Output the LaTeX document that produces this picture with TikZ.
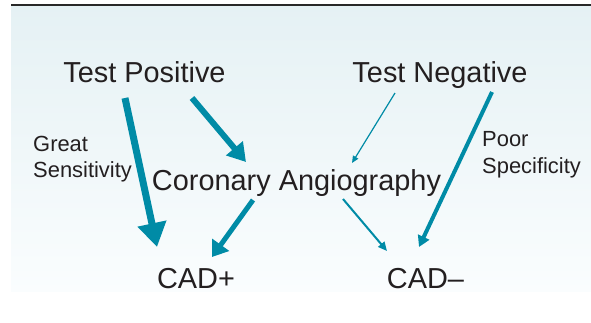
\documentclass[tikz,border=0pt]{standalone}
\usepackage{fontspec}
\setmainfont{Liberation Sans}
\usetikzlibrary{arrows.meta}
\definecolor{arrowteal}{RGB}{0,139,166}
\definecolor{textgray}{RGB}{35,31,32}
\definecolor{bgtop}{RGB}{229,241,244}
\definecolor{bgbot}{RGB}{250,253,254}
\definecolor{topline}{RGB}{40,40,40}
\tikzset{
  bigtext/.style={inner sep=0pt, anchor=base, text=textgray, font=\fontsize{29}{34}\selectfont},
  smalltext/.style={inner sep=0pt, anchor=north west, align=left, text=textgray, font=\fontsize{22}{26.5}\selectfont},
  conn/.style={draw=arrowteal, line cap=butt},
}
\begin{document}
\begin{tikzpicture}[x=1bp,y=-1bp]
\useasboundingbox (0,0) rectangle (591,322);
\shade[top color=bgtop, bottom color=bgbot] (11,5) rectangle (591,291);
\draw[line width=2bp, topline] (11,5) -- (591,5);

\node[bigtext] (tp) at (144.5,82) {Test Positive};
\node[bigtext] (tn) at (440,82) {Test Negative};
\node[bigtext] (ca) at (296.5,190) {Coronary Angiography};
\node[bigtext] (cp) at (196,288) {CAD+};
\node[bigtext] (cm) at (425.5,288) {CAD–};
\node[smalltext] (gs) at (33,135.5) {Great\\Sensitivity};
\node[smalltext] (ps) at (482,131.5) {Poor\\Specificity};

\coordinate (a1s) at (125,98);  \coordinate (a1e) at (157,247);
\coordinate (a2s) at (192,98);  \coordinate (a2e) at (246,162);
\coordinate (a3s) at (253,200); \coordinate (a3e) at (212,257);
\coordinate (a4s) at (395,93);  \coordinate (a4e) at (352,163);
\coordinate (a5s) at (492,92);  \coordinate (a5e) at (419,247);
\coordinate (a6s) at (343,199); \coordinate (a6e) at (387,251);

\draw[conn, line width=7bp, -{Triangle[length=24bp,width=28bp]}] (a1s) -- (a1e);
\draw[conn, line width=6bp, -{Triangle[length=18bp,width=21bp]}] (a2s) -- (a2e);
\draw[conn, line width=5bp, -{Triangle[length=15bp,width=20bp]}] (a3s) -- (a3e);
\draw[conn, line width=1.2bp, -{Triangle[length=7bp,width=6bp]}] (a4s) -- (a4e);
\draw[conn, line width=4bp, -{Triangle[length=11bp,width=12bp]}] (a5s) -- (a5e);
\draw[conn, line width=2bp, -{Triangle[length=9bp,width=8bp]}] (a6s) -- (a6e);
\end{tikzpicture}
\end{document}
